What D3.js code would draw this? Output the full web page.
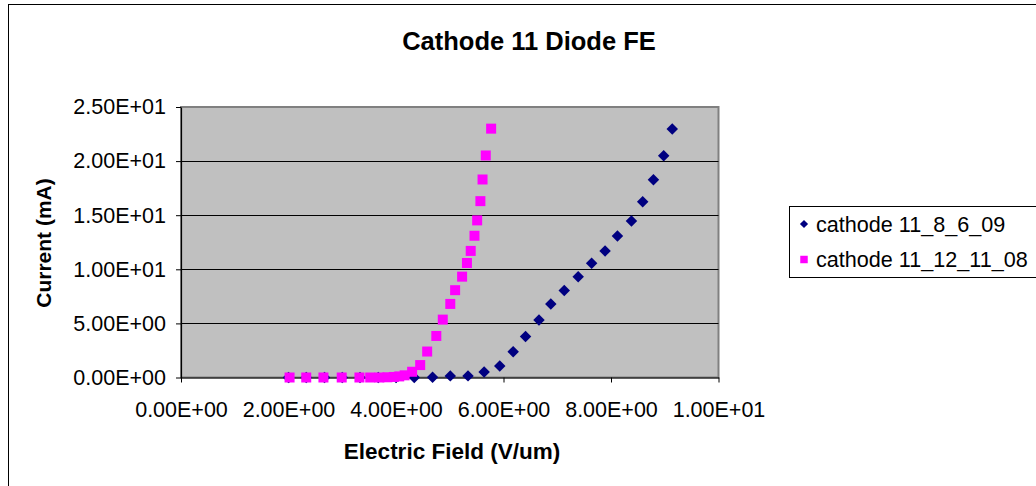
<!DOCTYPE html>
<html>
<head>
<meta charset="utf-8">
<script src="https://cdn.jsdelivr.net/npm/d3@7/dist/d3.min.js"></script>
<style>
  html, body { margin: 0; padding: 0; background: #fff; }
  svg { display: block; font-family: "Liberation Sans", Arial, sans-serif; }
</style>
</head>
<body>
<svg id="chart" width="1036" height="486"></svg>
<script>
// ---- data ----
const seriesNames = ["cathode 11_8_6_09", "cathode 11_12_11_08"];
const fieldA = [2.0, 2.33, 2.67, 3.0, 3.33, 3.67, 4.0, 4.34, 4.68, 5.01, 5.34, 5.64, 5.93, 6.18, 6.41, 6.66, 6.88, 7.13, 7.39, 7.64, 7.89, 8.12, 8.38, 8.59, 8.79, 8.98, 9.14];
const currentA = [0, 0, 0, 0, 0, 0, 0, 0, 0.02, 0.15, 0.15, 0.5, 1.07, 2.39, 3.78, 5.31, 6.79, 8.05, 9.31, 10.57, 11.7, 13.08, 14.47, 16.25, 18.27, 20.49, 22.97];
const fieldB = [2.02, 2.33, 2.65, 2.99, 3.32, 3.52, 3.69, 3.84, 3.96, 4.06, 4.16, 4.3, 4.45, 4.58, 4.75, 4.87, 5.01, 5.1, 5.23, 5.32, 5.39, 5.46, 5.51, 5.57, 5.61, 5.67, 5.77];
const currentB = [0, 0, 0, 0, 0, 0, 0, 0.02, 0.05, 0.1, 0.2, 0.53, 1.15, 2.4, 3.84, 5.35, 6.8, 8.07, 9.32, 10.58, 11.7, 13.1, 14.52, 16.3, 18.3, 20.52, 23.0];
const xTicks = [0, 2, 4, 6, 8, 10];
const xTickLabels = ["0.00E+00", "2.00E+00", "4.00E+00", "6.00E+00", "8.00E+00", "1.00E+01"];
const yTicks = [0, 5, 10, 15, 20, 25];
const yTickLabels = ["0.00E+00", "5.00E+00", "1.00E+01", "1.50E+01", "2.00E+01", "2.50E+01"];
const titleText = "Cathode 11 Diode FE";
const xTitle = "Electric Field (V/um)";
const yTitle = "Current (mA)";

// ---- layout ----
const L = 181, R = 718.5, T = 107, B = 377.5;
const svg = d3.select("#chart");
const x = d3.scaleLinear().domain([0, 10]).range([L, R]);
const y = d3.scaleLinear().domain([0, 25]).range([B, T]);

// outer chart border
svg.append("rect").attr("x", 8.5).attr("y", 4.5).attr("width", 1200).attr("height", 700)
  .attr("fill", "#fff").attr("stroke", "#000").attr("stroke-width", 1);

// plot area
svg.append("rect").attr("x", L).attr("y", T).attr("width", R - L).attr("height", B - T)
  .attr("fill", "#C0C0C0").attr("stroke", "#808080").attr("stroke-width", 2);

// gridlines
svg.append("g").selectAll("line").data(yTicks.filter(d => d > 0 && d < 25)).join("line")
  .attr("x1", L).attr("x2", R).attr("y1", d => Math.round(y(d)) + 0.5).attr("y2", d => Math.round(y(d)) + 0.5)
  .attr("stroke", "#000").attr("stroke-width", 1);

// axes
const xAxis = d3.axisBottom(x).tickValues(xTicks).tickFormat((d, i) => xTickLabels[i]).tickSize(5).tickSizeOuter(0).tickPadding(19);
const yAxis = d3.axisLeft(y).tickValues(yTicks).tickFormat((d, i) => yTickLabels[i]).tickSize(5).tickSizeOuter(0).tickPadding(10);
const gx = svg.append("g").attr("transform", `translate(0,${B})`).call(xAxis);
const gy = svg.append("g").attr("transform", `translate(${L},0)`).call(yAxis);
[gx, gy].forEach(g => {
  g.select(".domain").attr("stroke", "#000").attr("stroke-width", 1.2);
  g.selectAll(".tick line").attr("stroke", "#000");
  g.selectAll(".tick text").attr("fill", "#000").style("font-size", "21.5px").style("font-family", "'Liberation Sans', Arial, sans-serif");
});

// series
const dataA = fieldA.map((v, i) => [v, currentA[i]]);
const dataB = fieldB.map((v, i) => [v, currentB[i]]);
const diamond = d3.symbol().type(d3.symbolSquare).size(66);
const square = d3.symbol().type(d3.symbolSquare).size(100);
svg.append("g").selectAll("path").data(dataA).join("path")
  .attr("d", diamond).attr("transform", d => `translate(${x(d[0])},${y(d[1])}) rotate(45)`)
  .attr("fill", "#000080");
svg.append("g").selectAll("path").data(dataB).join("path")
  .attr("d", square).attr("transform", d => `translate(${x(d[0])},${y(d[1])})`)
  .attr("fill", "#FF00FF");

// titles
svg.append("text").attr("x", 529).attr("y", 50).attr("text-anchor", "middle")
  .style("font-size", "25.5px").style("font-weight", "bold").text(titleText);
svg.append("text").attr("x", 452).attr("y", 459).attr("text-anchor", "middle")
  .style("font-size", "22.5px").style("font-weight", "bold").text(xTitle);
svg.append("text").attr("transform", "translate(51,243) rotate(-90)").attr("text-anchor", "middle")
  .style("font-size", "21px").style("font-weight", "bold").text(yTitle);

// legend
const lg = svg.append("g");
lg.append("rect").attr("x", 789.5).attr("y", 206.5).attr("width", 400).attr("height", 71)
  .attr("fill", "#fff").attr("stroke", "#000").attr("stroke-width", 1);
const legendShapes = [d3.symbol().type(d3.symbolSquare).size(34), d3.symbol().type(d3.symbolSquare).size(56)];
const legendColors = ["#000080", "#FF00FF"];
seriesNames.forEach((name, i) => {
  const cy = 224 + i * 35.5;
  lg.append("path").attr("d", legendShapes[i])
    .attr("transform", `translate(804,${cy})` + (i === 0 ? " rotate(45)" : ""))
    .attr("fill", legendColors[i]);
  lg.append("text").attr("x", 816).attr("y", cy).attr("dy", "0.35em")
    .style("font-size", "21.6px").text(name);
});
</script>
</body>
</html>
